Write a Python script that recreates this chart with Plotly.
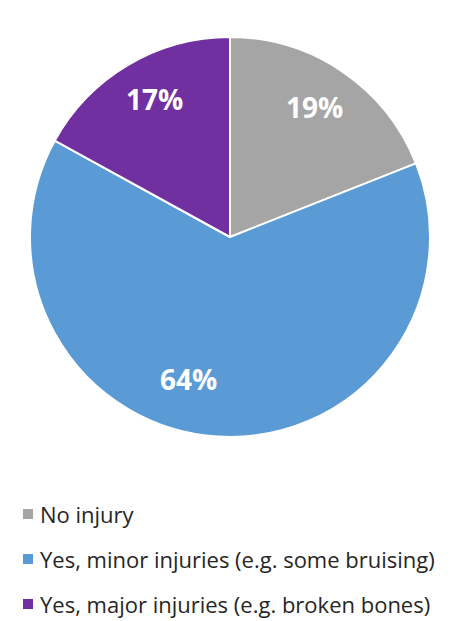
import math
import plotly.graph_objects as go

# Injury outcome shares (percent)
categories = ["No injury",
              "Yes, minor injuries (e.g. some bruising)",
              "Yes, major injuries (e.g. broken bones)"]
shares = [19, 64, 17]
colors = ["#A5A5A5", "#5B9BD5", "#7030A0"]

W, H = 462, 621
FONT = "'Open Sans', Lato, sans-serif"

# Pie placement in pixels
CX, CY, R = 230, 237, 200

fig = go.Figure(go.Pie(
    labels=categories,
    values=shares,
    sort=False,
    direction="clockwise",
    rotation=0,
    marker=dict(colors=colors, line=dict(color="white", width=2)),
    textinfo="none",
    hoverinfo="label+percent",
    showlegend=False,
    domain=dict(x=[(CX - R) / W, (CX + R) / W], y=[1 - (CY + R) / H, 1 - (CY - R) / H]),
))

# Percentage labels placed along each slice's mid-angle
label_radius = [0.775, 0.74, 0.785]   # fraction of the pie radius
label_nudge = [-1, 12.5, 2]           # degrees added to the mid-angle
annotations = []
total = sum(shares)
start = 0.0
for i, v in enumerate(shares):
    sweep = 360.0 * v / total
    theta = math.radians(start + sweep / 2 + label_nudge[i])
    start += sweep
    px = CX + label_radius[i] * R * math.sin(theta)
    py = CY - label_radius[i] * R * math.cos(theta)
    annotations.append(dict(text=f"<b>{v}%</b>", xref="paper", yref="paper",
                            x=px / W, y=1 - py / H, xanchor="center", yanchor="middle",
                            showarrow=False,
                            font=dict(family=FONT, size=28, color="white")))

# Hand-built legend below the pie: colour square + label per category
shapes = []
for i, (name, col) in enumerate(zip(categories, colors)):
    yc = 514 + i * 45
    shapes.append(dict(type="rect", xref="paper", yref="paper",
                       x0=23 / W, x1=33 / W,
                       y0=1 - (yc + 5) / H, y1=1 - (yc - 5) / H,
                       fillcolor=col, line=dict(width=0)))
    annotations.append(dict(text=name, xref="paper", yref="paper",
                            x=38 / W, y=1 - yc / H, xanchor="left", yanchor="middle",
                            showarrow=False,
                            font=dict(family=FONT, size=22, color="#262626")))

fig.update_layout(
    width=W, height=H,
    margin=dict(l=0, r=0, t=0, b=0),
    paper_bgcolor="white", plot_bgcolor="white",
    shapes=shapes, annotations=annotations,
)

fig.write_html("out.html")
